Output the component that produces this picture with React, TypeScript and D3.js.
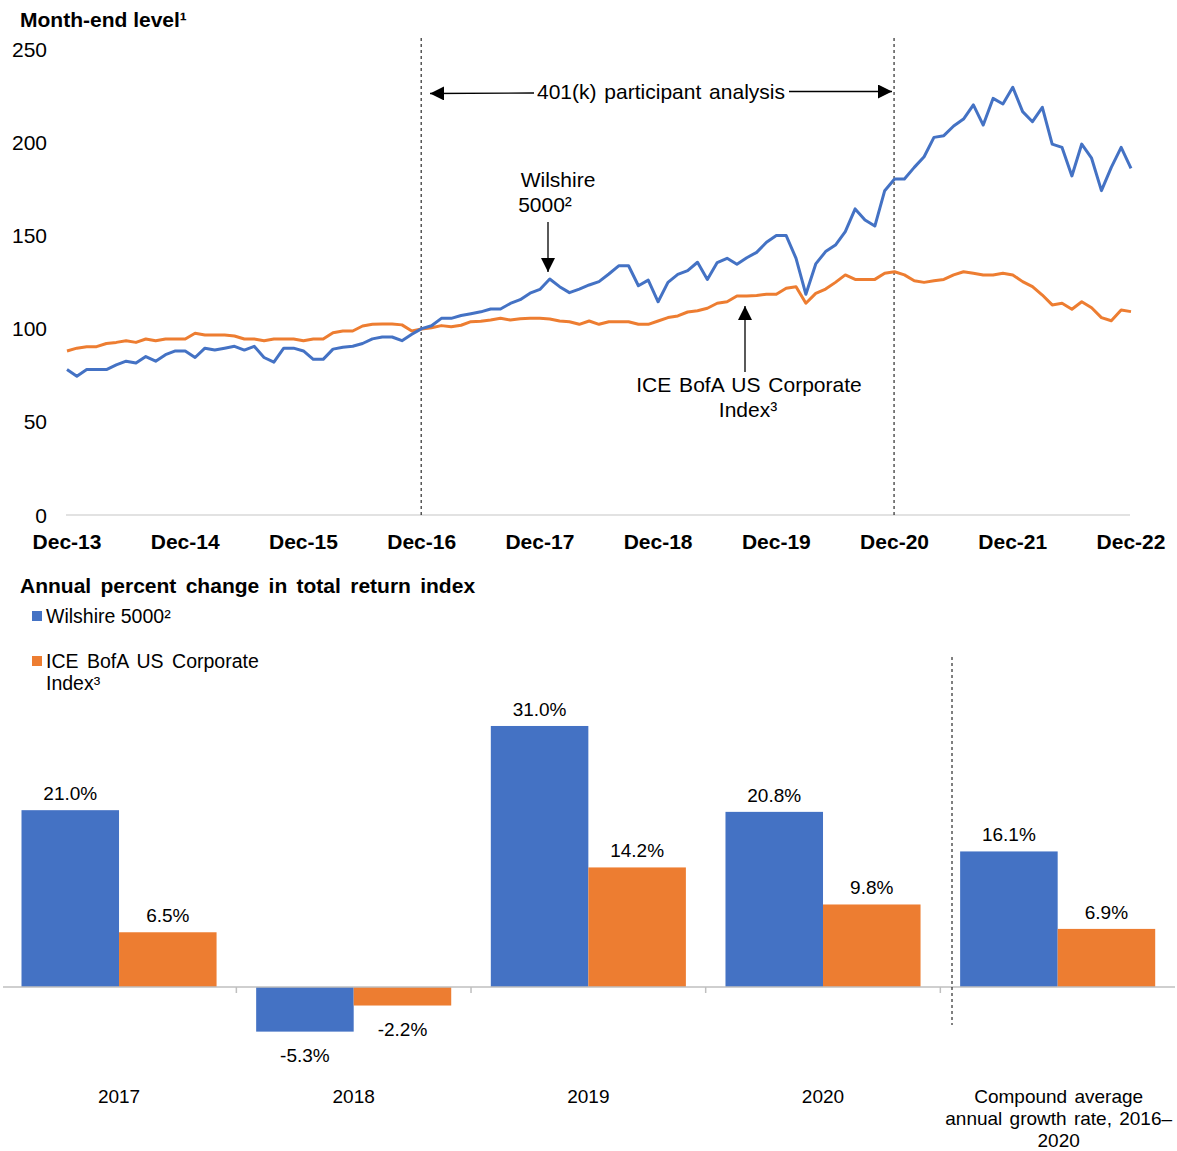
import React from 'react';
import * as d3 from 'd3';

// month-end levels, Dec-13 .. Dec-22 (Dec-16 = 100)
const wilshire = [
  78, 74.5, 78, 78, 78, 80.5, 82.5, 81.5, 85, 82.5, 86, 88,
  88, 84.5, 89.5, 88.5, 89.5, 90.5, 88.5, 90.5, 84.5, 82, 89.5, 89.5,
  88, 83.5, 83.5, 89, 90, 90.5, 92, 94.5, 95.5, 95.5, 93.5, 97,
  100, 101.5, 105.5, 105.5, 107, 108, 109, 110.5, 110.5, 113.5, 115.5, 119,
  121, 126.6, 122.5, 119.3, 121.2, 123.4, 125.2, 129.3, 133.7, 133.7, 123, 126,
  114.4, 124.8, 129.1, 131.1, 135.6, 126.4, 135.4, 137.7, 134.5, 138, 140.9, 146.3,
  149.9, 149.9, 137.7, 118.4, 134.7, 141.3, 144.8, 152, 164.2, 158.3, 155, 174,
  180.3, 180.3, 186.5, 192.2, 202.6, 203.5, 208.7, 212.4, 220, 209.2, 223.5, 220.5,
  229.5, 216.4, 211, 218.7, 199, 197.2, 181.9, 199, 191.4, 174, 186.5, 197.2,
  186,
];
const iceBofa = [
  88, 89.5, 90.3, 90.3, 92, 92.6, 93.5, 92.6, 94.4, 93.5, 94.4, 94.4,
  94.4, 97.5, 96.6, 96.6, 96.6, 96, 94.4, 94.4, 93.5, 94.4, 94.4, 94.4,
  93.5, 94.4, 94.4, 97.8, 98.7, 98.7, 101.4, 102.3, 102.5, 102.5, 102, 98.7,
  99.8, 100.5, 101.6, 101, 101.8, 103.7, 104, 104.6, 105.5, 104.6, 105.3, 105.5,
  105.5, 105.2, 104.1, 103.7, 102.3, 104.1, 102.3, 103.7, 103.7, 103.7, 102.3, 102.3,
  104.1, 105.9, 106.8, 108.9, 109.6, 110.9, 113.6, 114.4, 117.5, 117.5, 117.8, 118.4,
  118.4, 121.6, 122.5, 113.6, 118.9, 121.2, 124.8, 128.8, 126.4, 126.4, 126.4, 129.7,
  130.5, 128.8, 125.7, 124.8, 125.7, 126.4, 128.8, 130.5, 129.7, 128.8, 128.8, 129.7,
  128.8, 125.2, 122.5, 118, 112.7, 113.6, 110.4, 114.4, 111.2, 105.9, 104.2, 110,
  109.1,
];
const monthTicks = ['Dec-13', 'Dec-14', 'Dec-15', 'Dec-16', 'Dec-17', 'Dec-18', 'Dec-19', 'Dec-20', 'Dec-21', 'Dec-22'];
const levelTicks = [0, 50, 100, 150, 200, 250];

// annual percent change
const categories = ['2017', '2018', '2019', '2020', 'cagr'];
const wilshireChange = [21.0, -5.3, 31.0, 20.8, 16.1];
const iceChange = [6.5, -2.2, 14.2, 9.8, 6.9];

const BLUE = '#4472C4';
const ORANGE = '#ED7D31';
const FONT = '"Liberation Sans", Arial, sans-serif';

const App: React.FC = () => {
  // top chart
  const x = d3.scaleLinear().domain([0, wilshire.length - 1]).range([67, 1131]);
  const y = d3.scaleLinear().domain([0, 250]).range([515, 49]);
  const line = d3.line<number>().x((_, i) => x(i)).y(d => y(d));

  // bottom chart
  const x0 = d3.scaleBand().domain(categories).range([1.7, 1175]);
  const x1 = d3.scaleBand().domain(['w', 'i']).range([0, x0.bandwidth()]).paddingOuter(0.203);
  const yb = d3.scaleLinear().domain([-10, 35]).range([987 + 84.2, 987 - 294.7]);

  const bars = categories.flatMap((c, i) => [
    { c, key: 'w', v: wilshireChange[i], color: BLUE },
    { c, key: 'i', v: iceChange[i], color: ORANGE },
  ]);

  return (
    <svg width={1177} height={1151} style={{ position: 'absolute', left: 0, top: 0, background: '#fff' }} fontFamily={FONT}>
      <defs>
        <marker id="arrBig" viewBox="0 0 10 10" refX="10" refY="5" markerWidth="14" markerHeight="14" markerUnits="userSpaceOnUse" orient="auto">
          <path d="M0,0 L10,5 L0,10 z" fill="#000" />
        </marker>
      </defs>

      {/* ---------- Month-end level ---------- */}
      <text x={20} y={27} fontSize={21} fontWeight="bold">Month-end level¹</text>

      {levelTicks.map(t => (
        <text key={t} x={47} y={y(t)} fontSize={21} textAnchor="end" dominantBaseline="central">{t}</text>
      ))}

      <line x1={66} x2={1130} y1={515} y2={515} stroke="#d9d9d9" strokeWidth={1.5} />

      {monthTicks.map((t, i) => (
        <text key={t} x={x(i * 12)} y={549} fontSize={21} fontWeight="bold" textAnchor="middle">{t}</text>
      ))}

      {[36, 84].map(m => (
        <line key={m} x1={x(m) - 0.5} x2={x(m) - 0.5} y1={38} y2={515} stroke="#000" strokeWidth={1} strokeDasharray="3,3" />
      ))}

      <path d={line(iceBofa) || ''} fill="none" stroke={ORANGE} strokeWidth={3} strokeLinejoin="round" />
      <path d={line(wilshire) || ''} fill="none" stroke={BLUE} strokeWidth={3} strokeLinejoin="round" />

      {/* annotations */}
      <line x1={534} x2={430} y1={93} y2={93.5} stroke="#000" strokeWidth={1.3} markerEnd="url(#arrBig)" />
      <line x1={789} x2={892} y1={91.5} y2={91.5} stroke="#000" strokeWidth={1.3} markerEnd="url(#arrBig)" />
      <text x={661} y={99} fontSize={21} textAnchor="middle" wordSpacing={2}>401(k) participant analysis</text>

      <text x={558} y={187} fontSize={21} textAnchor="middle">Wilshire</text>
      <text x={545} y={212} fontSize={21} textAnchor="middle">5000²</text>
      <line x1={548} x2={548} y1={222} y2={272} stroke="#000" strokeWidth={1.3} markerEnd="url(#arrBig)" />

      <line x1={745} x2={745} y1={372} y2={306} stroke="#000" strokeWidth={1.3} markerEnd="url(#arrBig)" />
      <text x={749} y={392} fontSize={21} textAnchor="middle" wordSpacing={2}>ICE BofA US Corporate</text>
      <text x={748} y={417} fontSize={21} textAnchor="middle">Index³</text>

      {/* ---------- Annual percent change ---------- */}
      <text x={20} y={593} fontSize={21} fontWeight="bold" wordSpacing={3.5}>Annual percent change in total return index</text>

      <rect x={32} y={611} width={10} height={10} fill={BLUE} />
      <text x={46} y={623} fontSize={19.5}>Wilshire 5000²</text>
      <rect x={32} y={656} width={10} height={10} fill={ORANGE} />
      <text x={46} y={668} fontSize={19.5} wordSpacing={3}>ICE BofA US Corporate</text>
      <text x={46} y={690} fontSize={19.5}>Index³</text>

      {bars.map(b => {
        const bx = (x0(b.c) || 0) + (x1(b.key) || 0);
        const top = yb(Math.max(0, b.v));
        const bottom = yb(Math.min(0, b.v));
        const cx = bx + x1.bandwidth() / 2;
        return (
          <g key={b.c + b.key}>
            <rect x={bx} y={top} width={x1.bandwidth()} height={bottom - top} fill={b.color} />
            <text x={cx} y={b.v >= 0 ? top - 10 : bottom + 30} fontSize={19} textAnchor="middle">
              {b.v.toFixed(1)}%
            </text>
          </g>
        );
      })}

      <line x1={3} x2={1175} y1={987} y2={987} stroke="#bfbfbf" strokeWidth={1.5} />
      {categories.slice(1).map(c => (
        <line key={c} x1={x0(c)} x2={x0(c)} y1={987} y2={993} stroke="#bfbfbf" strokeWidth={1.5} />
      ))}

      <line x1={952} x2={952} y1={657} y2={1025} stroke="#000" strokeWidth={1} strokeDasharray="3,3" />

      {categories.slice(0, 4).map(c => (
        <text key={c} x={(x0(c) || 0) + x0.bandwidth() / 2} y={1103} fontSize={19} textAnchor="middle">{c}</text>
      ))}
      {['Compound average', 'annual growth rate, 2016–', '2020'].map((t, i) => (
        <text key={t} x={(x0('cagr') || 0) + x0.bandwidth() / 2 + 1} y={1103 + i * 22} fontSize={19} textAnchor="middle" wordSpacing={2}>{t}</text>
      ))}
    </svg>
  );
};

export default App;
